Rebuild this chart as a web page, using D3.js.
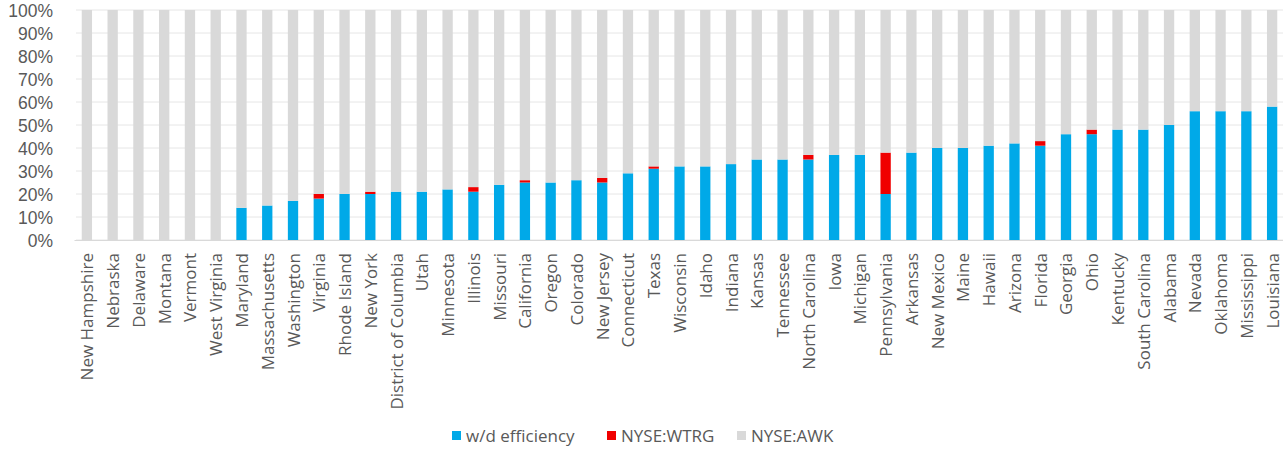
<!DOCTYPE html>
<html><head><meta charset="utf-8">
<script src="https://cdn.jsdelivr.net/npm/d3@7"></script>
<style>body{margin:0;background:#fff}svg{display:block}</style>
</head><body>
<svg id="c" width="1283" height="450"></svg>
<script>
const states = ["New Hampshire","Nebraska","Delaware","Montana","Vermont","West Virginia","Maryland","Massachusetts","Washington","Virginia","Rhode Island","New York","District of Columbia","Utah","Minnesota","Illinois","Missouri","California","Oregon","Colorado","New Jersey","Connecticut","Texas","Wisconsin","Idaho","Indiana","Kansas","Tennessee","North Carolina","Iowa","Michigan","Pennsylvania","Arkansas","New Mexico","Maine","Hawaii","Arizona","Florida","Georgia","Ohio","Kentucky","South Carolina","Alabama","Nevada","Oklahoma","Mississippi","Louisiana"];
const efficiency = [0,0,0,0,0,0,14,15,17,18,20,20,21,21,22,21,24,25,25,26,25,29,31,32,32,33,35,35,35,37,37,20,38,40,40,41,42,41,46,46,48,48,50,56,56,56,58];
const wtrg = [0,0,0,0,0,0,0,0,0,2,0,1,0,0,0,2,0,1,0,0,2,0,1,0,0,0,0,0,2,0,0,18,0,0,0,0,0,2,0,2,0,0,0,0,0,0,0];
const seriesNames = ["w/d efficiency","NYSE:WTRG","NYSE:AWK"];
const colors = ["#00A9E8","#F00000","#D9D9D9"];
const yTicks = [0,10,20,30,40,50,60,70,80,90,100];

const data = states.map((s,i)=>({state:s, eff:efficiency[i], wtrg:wtrg[i], awk:100-efficiency[i]-wtrg[i]}));
const stack = d3.stack().keys(["eff","wtrg","awk"])(data);

const svg = d3.select("#c");
const font = "'Open Sans', sans-serif";
const x = d3.scaleBand().domain(states).range([74,1285]).paddingInner(0.6).paddingOuter(0.3);
const y = d3.scaleLinear().domain([0,100]).range([240,10]);

// gridlines
svg.append("g").selectAll("line").data(yTicks).join("line")
  .attr("x1",76).attr("x2",1283)
  .attr("y1",d=>y(d)).attr("y2",d=>y(d))
  .attr("stroke","#E6E6E6").attr("stroke-width",1);

// bars
svg.append("g").selectAll("g").data(stack).join("g")
  .attr("fill",(d,i)=>colors[i])
  .selectAll("rect").data(d=>d).join("rect")
  .attr("x",d=>x(d.data.state))
  .attr("width",x.bandwidth())
  .attr("y",d=>y(d[1]))
  .attr("height",d=>y(d[0])-y(d[1]));

// y axis
const ya = svg.append("g").attr("transform","translate(61,1)")
  .call(d3.axisLeft(y).tickValues(yTicks).tickFormat(d=>d+"%").tickSize(0).tickPadding(8));
ya.select(".domain").remove();
ya.selectAll("text").attr("font-family","'Liberation Sans', Arial, sans-serif").attr("font-size",17.5).attr("fill","#595959");

// x axis
const xa = svg.append("g").attr("transform","translate(0,240)")
  .call(d3.axisBottom(x).tickSize(0));
xa.select(".domain").attr("stroke","#D9D9D9");
xa.selectAll("text")
  .attr("font-family",font).attr("font-size",17).attr("fill","#595959")
  .attr("transform","rotate(-90)")
  .attr("text-anchor","end")
  .attr("dx","-13").attr("dy","0").attr("y",0).attr("x",0)
  .style("dominant-baseline","central");

// legend
const legX = [452,607,737];
const lg = svg.append("g");
seriesNames.forEach((n,i)=>{
  lg.append("rect").attr("x",legX[i]).attr("y",431).attr("width",9).attr("height",9).attr("fill",colors[i]);
  lg.append("text").attr("x",legX[i]+14).attr("y",435).attr("dominant-baseline","central")
    .attr("font-family",font).attr("font-size",17).attr("fill","#595959").text(n);
});
</script>
</body></html>
